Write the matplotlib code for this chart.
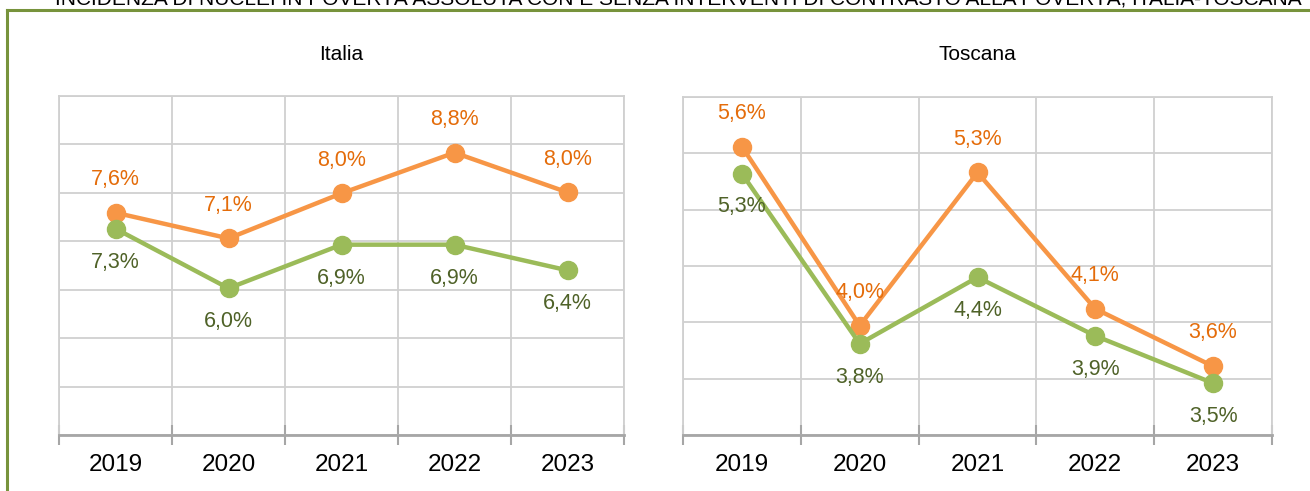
import matplotlib
matplotlib.use('Agg')
from matplotlib import pyplot as plt
from matplotlib.lines import Line2D

# data (percent of households)
years = ['2019', '2020', '2021', '2022', '2023']
ita_senza = [7.59, 7.06, 7.99, 8.83, 8.01]   # without interventions (orange)
ita_con = [7.26, 6.03, 6.93, 6.93, 6.40]     # with interventions (green)
tos_senza = [5.56, 3.97, 5.33, 4.12, 3.61]
tos_con = [5.32, 3.81, 4.40, 3.88, 3.46]

title = ('INCIDENZA DI NUCLEI IN POVERTÀ ASSOLUTA CON E SENZA INTERVENTI '
         'DI CONTRASTO ALLA POVERTÀ, ITALIA-TOSCANA')

plt.rcParams['font.family'] = ['Liberation Sans', 'DejaVu Sans']

orange = '#F79646'
orange_txt = '#E46C0A'
green = '#9BBB59'
green_txt = '#4F6228'
grid_c = '#D0D0D0'
axis_c = '#A6A6A6'

W, H = 1310, 491
fig = plt.figure(figsize=(W / 100, H / 100), dpi=100)


def fmt(v):
    return f'{v:.1f}'.replace('.', ',') + '%'


def panel(rect, name, senza, con, ylo, yhi, ystep):
    ax = fig.add_axes(rect)
    x = list(range(len(years)))
    ax.set_xlim(-0.5, len(years) - 0.5)
    ax.set_ylim(ylo, yhi)
    ticks = []
    t = ylo
    while t <= yhi + 1e-9:
        ticks.append(t)
        t += ystep
    ax.set_yticks(ticks)
    ax.set_xticks(x)
    ax.set_xticklabels(years)
    ax.set_xticks([i - 0.5 for i in range(len(years) + 1)], minor=True)
    ax.tick_params(axis='x', which='major', length=0, pad=14, labelsize=17.5, labelcolor='#000000')
    ax.tick_params(axis='x', which='minor', direction='inout', length=14, width=1.5, color=axis_c)
    ax.tick_params(axis='y', which='both', length=0, labelleft=False)
    ax.grid(True, axis='y', which='major', color=grid_c, lw=1.3)
    ax.grid(True, axis='x', which='minor', color=grid_c, lw=1.3)
    ax.set_axisbelow(True)
    for s in ['left', 'right', 'top']:
        ax.spines[s].set_color(grid_c)
        ax.spines[s].set_linewidth(1.3)
    ax.spines['bottom'].set_color(axis_c)
    ax.spines['bottom'].set_linewidth(2)

    ax.plot(x, senza, color=orange, lw=3.2, marker='o', ms=13, zorder=3)
    ax.plot(x, con, color=green, lw=3.2, marker='o', ms=13, zorder=3)
    for xi, v in zip(x, senza):
        ax.annotate(fmt(v), (xi, v), xytext=(0, 24), textcoords='offset points',
                    ha='center', va='center', fontsize=15.5, color=orange_txt, zorder=4)
    for xi, v in zip(x, con):
        ax.annotate(fmt(v), (xi, v), xytext=(0, -24), textcoords='offset points',
                    ha='center', va='center', fontsize=15.5, color=green_txt, zorder=4)
    cx = rect[0] + rect[2] / 2
    fig.text(cx, 1 - 54 / H, name, ha='center', va='center', fontsize=15, color='#000000')
    return ax


panel([59 / W, 1 - 435 / H, (624 - 59) / W, (435 - 96) / H], 'Italia',
      ita_senza, ita_con, 3, 10, 1)
panel([683 / W, 1 - 435 / H, (1272 - 683) / W, (435 - 97) / H], 'Toscana',
      tos_senza, tos_con, 3.0, 6.0, 0.5)

# green frame, only top and left edges are visible
frame_c = '#77933C'
fig.add_artist(Line2D([7 / W, 1.0], [1 - 10 / H, 1 - 10 / H], color=frame_c, lw=2.2))
fig.add_artist(Line2D([7 / W, 7 / W], [0, 1 - 10 / H], color=frame_c, lw=2.2))

# title, clipped by the top edge as in the source
fig.text(678 / W, 1 - 6 / H, title, ha='center', va='baseline', fontsize=15,
         family=['Liberation Sans Narrow', 'Liberation Sans', 'DejaVu Sans'], color='#000000')

fig.savefig('out.png', dpi=100)
